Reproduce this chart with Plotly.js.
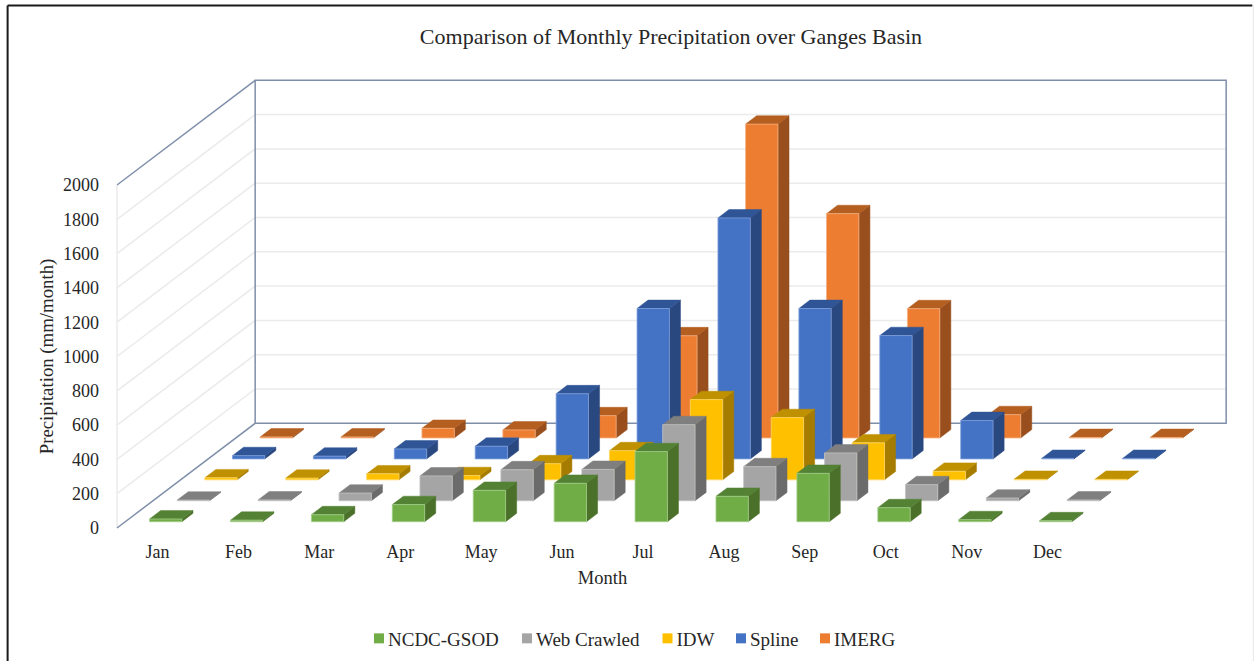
<!DOCTYPE html>
<html><head><meta charset="utf-8">
<script src="https://cdn.plot.ly/plotly-3.0.1.min.js"></script>
<style>html,body{margin:0;padding:0;background:#fff;overflow:hidden}</style>
</head><body><div id="chart" style="width:1255px;height:661px"></div>
<script>
const months = ['Jan','Feb','Mar','Apr','May','Jun','Jul','Aug','Sep','Oct','Nov','Dec'];
const yTicks = [0,200,400,600,800,1000,1200,1400,1600,1800,2000];
const ncdcGsod  = [16, 9, 41, 100, 183, 224, 409, 148, 282, 82, 12, 6];
const webCrawled = [4, 5, 45, 145, 181, 183, 444, 199, 279, 94, 16, 5];
const idw = [12, 10, 35, 25, 94, 170, 468, 363, 216, 50, 3, 3];
const spline = [19, 16, 58, 74, 380, 877, 1405, 877, 719, 224, 3, 3];
const imerg = [6, 6, 56, 47, 130, 596, 1830, 1308, 754, 136, 3, 3];
const seriesNames = ['NCDC-GSOD','Web Crawled','IDW','Spline','IMERG'];
const seriesValues = [ncdcGsod, webCrawled, idw, spline, imerg];
const frontColors = ['#70AD47','#A5A5A5','#FFC000','#4472C4','#ED7D31'];
const topColors   = ['#548235','#7F7F7F','#BF9000','#2F5597','#B45F20'];
const sideColors  = ['#4A7029','#6B6B6B','#A67C00','#2A4880','#984F1D'];
const edgeColors  = ['#A6CF8C','#C4C4C4','#FFD966','#7F9FDA','#F4B183'];
const legendMarkerX = [379, 527, 667.5, 741, 825];

// oblique depth projection, expressed in axis units
const depthX = 0.3415, depthY = 122.1, nDepth = 5;
const px = (u,d) => u + depthX*d;
const py = (v,d) => v + depthY*d;
const halfW = 0.2, d0 = 0.3, d1 = 0.7;

function face(corners, xs, ys){
  corners.forEach(c => { xs.push(px(c[0],c[2])); ys.push(py(c[1],c[2])); });
  xs.push(null); ys.push(null);
}
const traces = [];
function wire(list, color, width){
  const x=[], y=[];
  list.forEach(seg => {
    seg.forEach(c => { x.push(px(c[0],c[2])); y.push(py(c[1],c[2])); });
    x.push(null); y.push(null);
  });
  traces.push({x,y,mode:'lines',line:{color,width,simplify:false},showlegend:false,hoverinfo:'skip'});
}
const L=-0.5, R=11.5, T=2000;
// light gridlines on side wall and back wall
wire(yTicks.slice(1,-1).map(v=>[[L,v,0],[L,v,nDepth]]).concat(yTicks.slice(1,-1).map(v=>[[L,v,nDepth],[R,v,nDepth]])).concat([[[L,0,0],[L,T,0]]]), '#EBEBEB', 1.5);
// blue-grey frame of the walls
wire([[[L,0,0],[L,0,nDepth],[R,0,nDepth],[R,T,nDepth],[L,T,nDepth],[L,0,nDepth]],[[L,T,0],[L,T,nDepth]]], '#7F8FA9', 1.5);

for(let k=nDepth-1;k>=0;k--){
  const fx=[],fy=[],sx=[],sy=[],tx=[],ty=[];
  const a=k+d0,b=k+d1;
  seriesValues[k].forEach((v,m)=>{
    const l=m-halfW,r=m+halfW;
    face([[l,0,a],[r,0,a],[r,v,a],[l,v,a],[l,0,a]],fx,fy);
    face([[r,0,a],[r,0,b],[r,v,b],[r,v,a],[r,0,a]],sx,sy);
    face([[l,v,a],[r,v,a],[r,v,b],[l,v,b],[l,v,a]],tx,ty);
  });
  const mk=(x,y,fill,line,w)=>traces.push({x,y,mode:'lines',fill:'toself',fillcolor:fill,line:{color:line,width:w,simplify:false},showlegend:false,hoverinfo:'skip'});
  mk(sx,sy,sideColors[k],sideColors[k],0.5);
  mk(tx,ty,topColors[k],topColors[k],0.5);
  mk(fx,fy,frontColors[k],edgeColors[k],0.8);
}
seriesNames.forEach((n,k)=>traces.push({x:[null],y:[null],name:n,mode:'markers',marker:{symbol:'square',size:10,color:frontColors[k]}}));

const serif='"Liberation Serif", serif';
const W=1255,H=661,ml=116.5,mr=166.5,mt=184.9,mb=133.4;
const pw=W-ml-mr, ph=H-mt-mb;
const paperX=p=>(p-ml)/pw, paperY=p=>(H-mb-p)/ph;
const layout={
  width:W,height:H,paper_bgcolor:'#fff',plot_bgcolor:'rgba(0,0,0,0)',
  margin:{l:ml,r:mr,t:mt,b:mb,pad:0,autoexpand:false},
  font:{family:serif,size:18,color:'#262626'},
  title:{text:'Comparison of Monthly Precipitation over Ganges Basin',font:{family:serif,size:22,color:'#262626'},xref:'container',yref:'container',x:671/W,y:1-36/H,xanchor:'center',yanchor:'middle'},
  xaxis:{range:[L,R],tickmode:'array',tickvals:months.map((_,i)=>i),ticktext:months,showgrid:false,zeroline:false,showline:false,ticks:'',ticklabelstandoff:11,automargin:false,tickfont:{family:serif,size:18,color:'#262626'},
    title:{text:'Month',font:{family:serif,size:18.5,color:'#262626'},standoff:10}},
  yaxis:{range:[0,T],tickmode:'array',tickvals:yTicks,showgrid:false,zeroline:false,showline:false,ticks:'',ticklabelstandoff:17,automargin:false,tickfont:{family:serif,size:18,color:'#262626'},
    title:{text:'Precipitation (mm/month)',font:{family:serif,size:18.8,color:'#262626'},standoff:4}},
  legend:{orientation:'h',x:paperX(348),xanchor:'left',y:paperY(638),yanchor:'middle',font:{family:serif,size:19,color:'#262626'},bgcolor:'rgba(0,0,0,0)',traceorder:'normal'},
  shapes:[
    {type:'line',xref:'paper',yref:'paper',x0:paperX(7),x1:paperX(1253),y0:paperY(5.5),y1:paperY(5.5),line:{color:'#1a1a1a',width:2}},
    {type:'line',xref:'paper',yref:'paper',x0:paperX(7),x1:paperX(7),y0:paperY(5.5),y1:paperY(661),line:{color:'#1a1a1a',width:2}},
    {type:'line',xref:'paper',yref:'paper',x0:paperX(1254),x1:paperX(1254),y0:paperY(5.5),y1:paperY(661),line:{color:'#E6E6E6',width:1}}
  ]
};
Plotly.newPlot('chart',traces,layout,{displayModeBar:false,staticPlot:true}).then(()=>{
  // the 3D box runs past the [0,2000] plot area: lift the subplot clip
  document.querySelectorAll('.cartesianlayer [clip-path], .cartesianlayer[clip-path]').forEach(e=>e.removeAttribute('clip-path'));
  const leg=document.querySelector('.legend');
  const m=/translate\(([-\d.]+)/.exec(leg.getAttribute('transform'));
  const ox=m?parseFloat(m[1]):0;
  leg.querySelectorAll('g.traces').forEach((g,i)=>{
    const t=/translate\(([-\d.]+),\s*([-\d.]+)/.exec(g.getAttribute('transform'));
    g.setAttribute('transform','translate('+(legendMarkerX[i]-31-ox)+','+t[2]+')');
    g.querySelector('.legendpoints').setAttribute('transform','translate(11,0)');
  });
  const cp=leg.querySelector('.scrollbox');
  if(cp) cp.removeAttribute('clip-path');
});
</script></body></html>
